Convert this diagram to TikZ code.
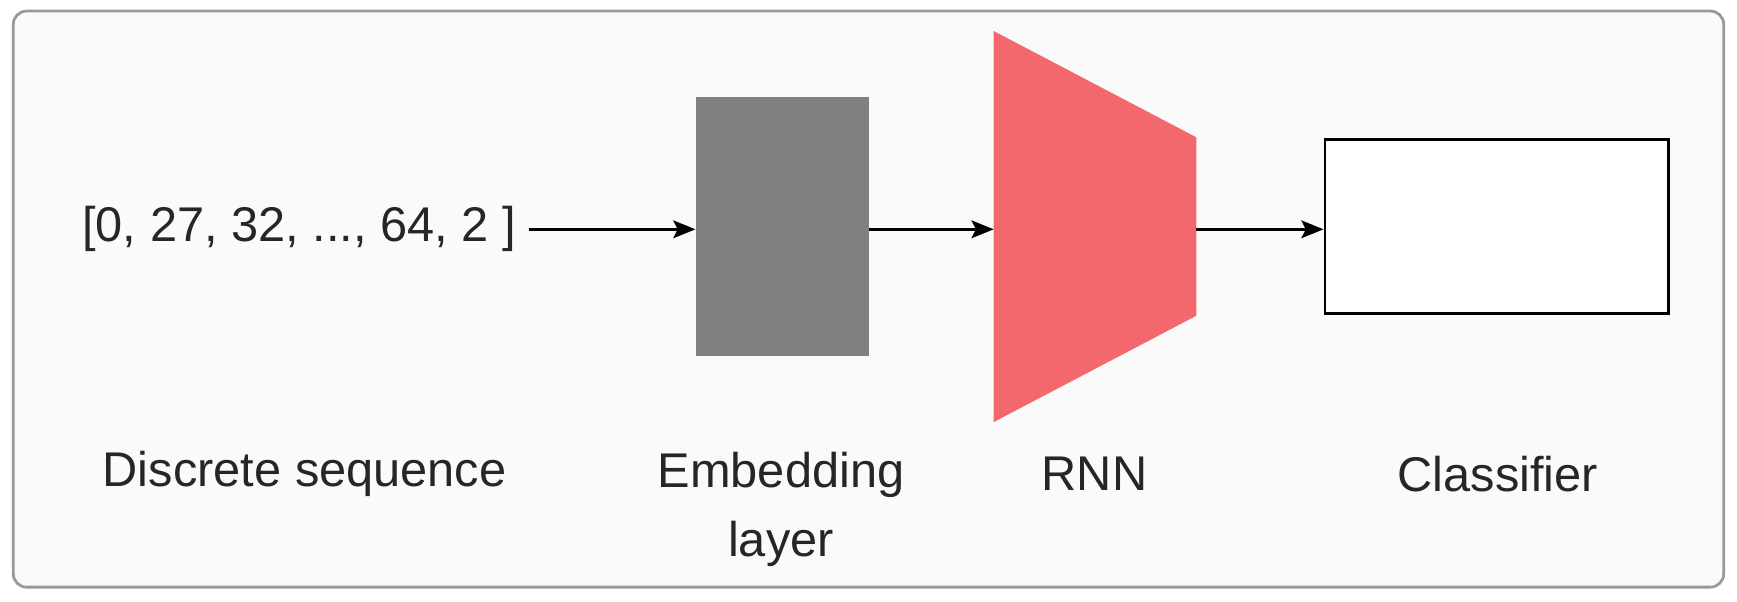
\documentclass[tikz,border=0pt]{standalone}
\usepackage{fontspec}
\setmainfont{Liberation Sans}
\usetikzlibrary{arrows.meta,positioning}
\definecolor{rnnred}{RGB}{242,104,108}
\definecolor{embgray}{RGB}{128,128,128}
\tikzset{
  lbl/.style={font=\fontsize{44}{62}\selectfont, text=black!85, align=center, inner sep=0pt},
  conn/.style={line width=2.5pt, -{Stealth[length=20pt,width=16pt,inset=4pt]}}
}
\begin{document}
\begin{tikzpicture}[x=1pt,y=1pt,yscale=-1]
\useasboundingbox (0,0) rectangle (1568,543);

%Shape: background frame
\draw [rounded corners=12pt, line width=2.5pt, draw=black!40, fill=black!2] (12,10) rectangle (1556,530);

% input sequence
\node [lbl] (seq) at (270,207) {[0, 27, 32, ..., 64, 2 ]};
% embedding layer
\node [fill=embgray, minimum width=156pt, minimum height=233pt, inner sep=0pt] (emb) at (706,204.5) {};
% rnn trapezoid
\draw [fill=rnnred, draw=none] (897,28) -- (1080,124) -- (1080,285) -- (897,381) -- cycle;
\coordinate (rnnin) at (897,207);
\coordinate (rnnout) at (1080,207);
% classifier
\node [draw, line width=2.5pt, fill=white, minimum width=310pt, minimum height=157pt, inner sep=0pt] (cls) at (1351,204.5) {};

%Straight Lines
\draw [conn] (seq.east) ++(12,0) coordinate (seqout) -- (seqout -| emb.west);
\draw [conn] (emb.east |- rnnin) -- (rnnin);
\draw [conn] (rnnout) -- (rnnout -| cls.west);

% Text Node
\node [lbl] (seqlbl) at (275,428) {Discrete sequence};
\node [lbl, anchor=north] (emblbl) at (705,408) {Embedding\\layer};
\node [lbl] (rnnlbl) at (988,428) {RNN};
\node [lbl] (clslbl) at (1352,428) {Classifier};
\end{tikzpicture}
\end{document}
